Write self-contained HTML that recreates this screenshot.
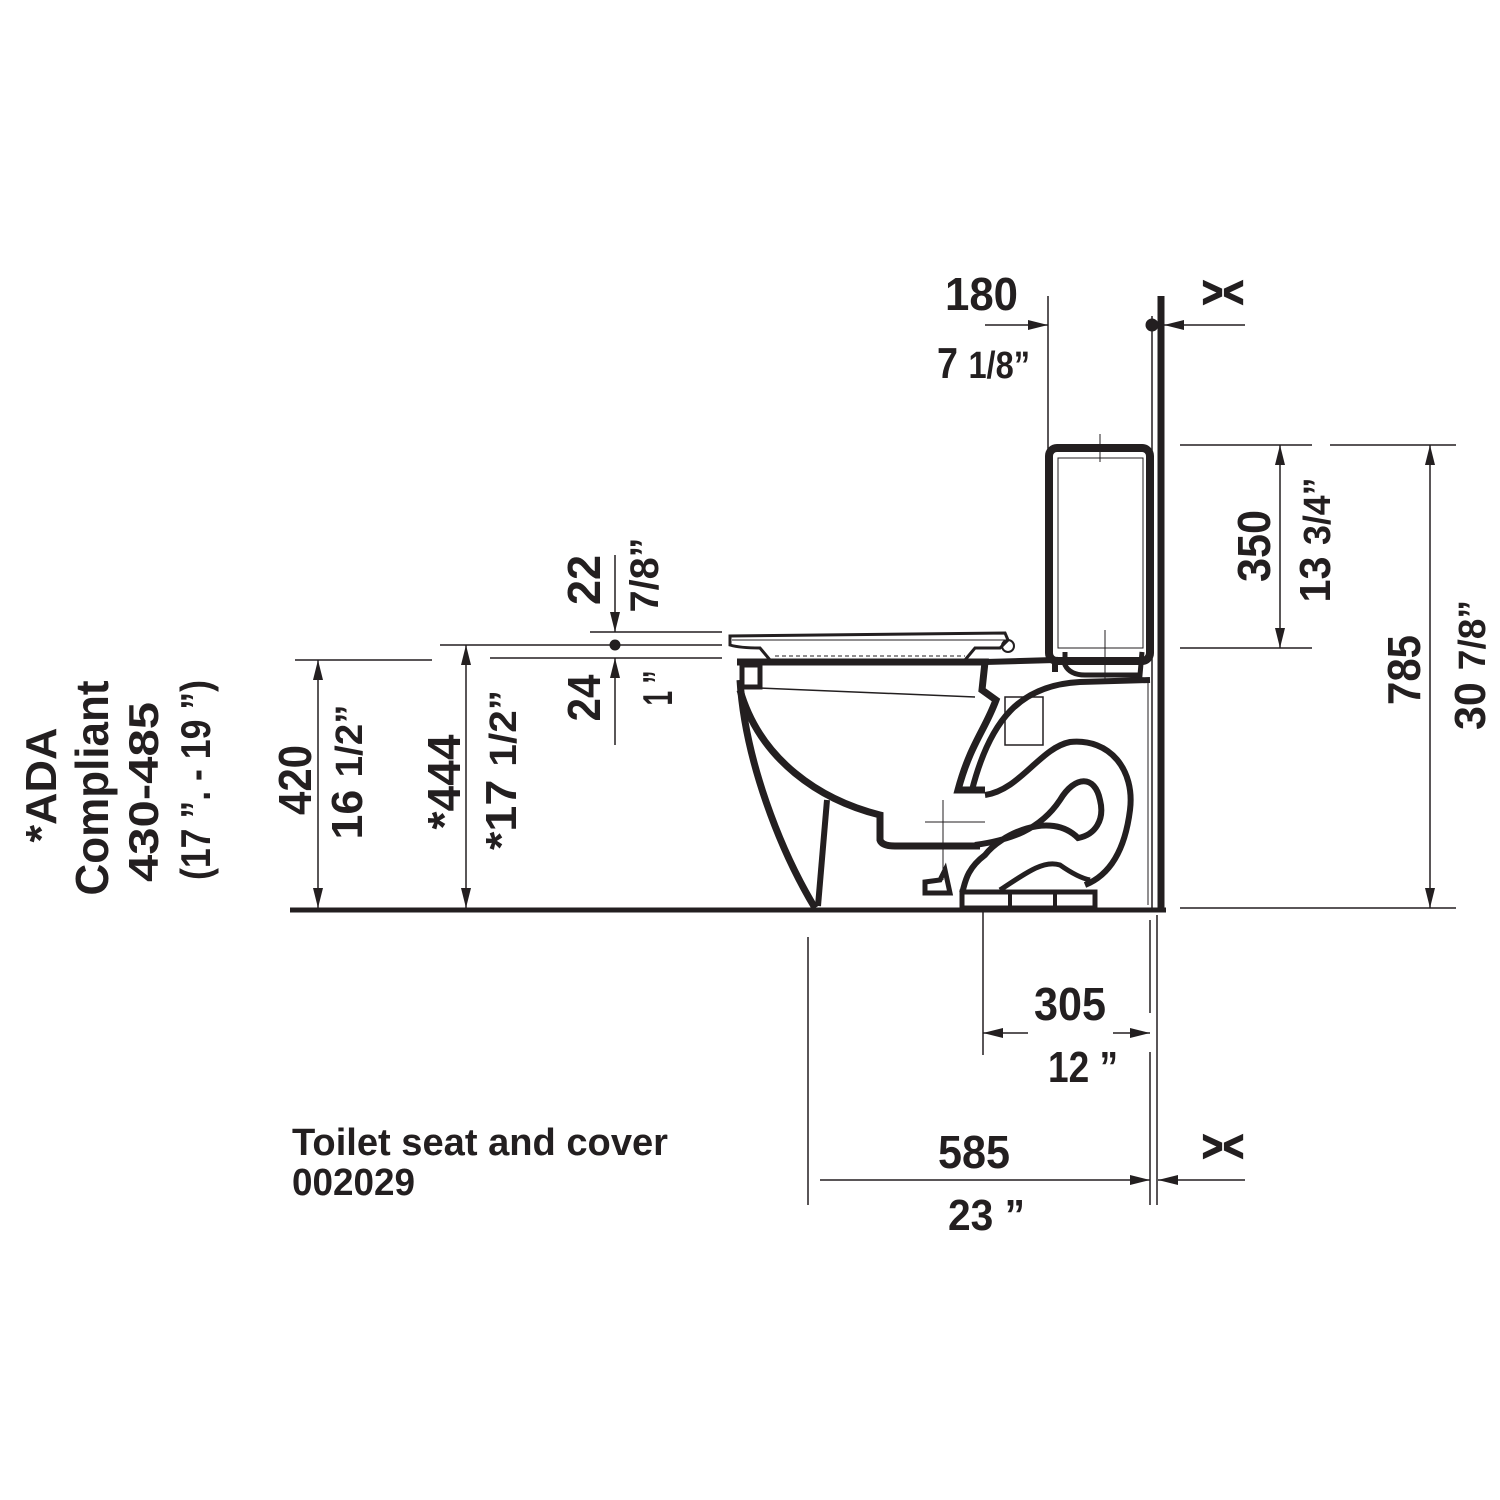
<!DOCTYPE html>
<html><head><meta charset="utf-8"><style>
html,body{margin:0;padding:0;background:#fff;}
svg{display:block;}
text{font-family:"Liberation Sans Narrow","Liberation Sans",sans-serif;font-weight:bold;fill:#231f20;}
</style></head><body>
<svg width="1500" height="1500" viewBox="0 0 1500 1500" xmlns="http://www.w3.org/2000/svg">
<defs>
<marker id="a" viewBox="0 0 20 10" refX="20" refY="5" markerWidth="20" markerHeight="10" markerUnits="userSpaceOnUse" orient="auto"><path d="M0,0 L20,5 L0,10 Z" fill="#231f20"/></marker>
</defs>
<g stroke="#231f20" fill="none">
<line x1="290" y1="910" x2="1166" y2="910" stroke-width="5"/>
<line x1="1161" y1="296" x2="1161" y2="912" stroke-width="7"/>
<line x1="1152" y1="316" x2="1152" y2="910" stroke-width="1.5"/>
<circle cx="1152" cy="325" r="6" fill="#231f20"/>

<line x1="1048" y1="296" x2="1048" y2="455" stroke-width="1.5"/>
<line x1="985" y1="325" x2="1048" y2="325" stroke-width="1.5" marker-end="url(#a)"/>
<line x1="1245" y1="325" x2="1164" y2="325" stroke-width="1.5" marker-end="url(#a)"/>

<line x1="1180" y1="445" x2="1312" y2="445" stroke-width="1.5"/>
<line x1="1180" y1="648" x2="1312" y2="648" stroke-width="1.5"/>
<line x1="1280" y1="546" x2="1280" y2="445" stroke-width="1.5" marker-end="url(#a)"/>
<line x1="1280" y1="546" x2="1280" y2="648" stroke-width="1.5" marker-end="url(#a)"/>
<line x1="1330" y1="445" x2="1456" y2="445" stroke-width="1.5"/>
<line x1="1180" y1="908" x2="1456" y2="908" stroke-width="1.5"/>
<line x1="1430" y1="670" x2="1430" y2="445" stroke-width="1.5" marker-end="url(#a)"/>
<line x1="1430" y1="670" x2="1430" y2="908" stroke-width="1.5" marker-end="url(#a)"/>

<line x1="295" y1="660" x2="432" y2="660" stroke-width="1.5"/>
<line x1="318" y1="780" x2="318" y2="660" stroke-width="1.5" marker-end="url(#a)"/>
<line x1="318" y1="780" x2="318" y2="908" stroke-width="1.5" marker-end="url(#a)"/>
<line x1="440" y1="645" x2="722" y2="645" stroke-width="1.5"/>
<line x1="466" y1="780" x2="466" y2="645" stroke-width="1.5" marker-end="url(#a)"/>
<line x1="466" y1="780" x2="466" y2="908" stroke-width="1.5" marker-end="url(#a)"/>
<line x1="590" y1="632" x2="722" y2="632" stroke-width="1.5"/>
<line x1="490" y1="658" x2="722" y2="658" stroke-width="1.5"/>
<line x1="615" y1="555" x2="615" y2="632" stroke-width="1.5" marker-end="url(#a)"/>
<line x1="615" y1="745" x2="615" y2="658" stroke-width="1.5" marker-end="url(#a)"/>
<circle cx="615" cy="645" r="5" fill="#231f20"/>

<line x1="808" y1="937" x2="808" y2="1205" stroke-width="1.5"/>
<line x1="983" y1="912" x2="983" y2="1055" stroke-width="1.5"/>
<line x1="1150" y1="920" x2="1150" y2="1013" stroke-width="1.5"/>
<line x1="1150" y1="1052" x2="1150" y2="1205" stroke-width="1.5"/>
<line x1="1157" y1="915" x2="1157" y2="1205" stroke-width="1.5"/>
<line x1="1028" y1="1033" x2="983" y2="1033" stroke-width="1.5" marker-end="url(#a)"/>
<line x1="1113" y1="1033" x2="1150" y2="1033" stroke-width="1.5" marker-end="url(#a)"/>
<line x1="820" y1="1180" x2="1150" y2="1180" stroke-width="1.5" marker-end="url(#a)"/>
<line x1="1245" y1="1180" x2="1158" y2="1180" stroke-width="1.5" marker-end="url(#a)"/>

<rect x="1049" y="448" width="101" height="213" rx="8" stroke-width="8"/>
<rect x="1058" y="458" width="85" height="190" stroke-width="1"/>
<line x1="1100" y1="434" x2="1100" y2="462" stroke-width="1"/>
<path d="M1065,652 L1065,665 Q1070,675 1085,675 L1140,675 L1142,652" stroke-width="5"/>
<line x1="1105" y1="630" x2="1105" y2="680" stroke-width="1"/>

<path d="M730,636 L730,645 Q740,648 760,648 L770,660 L965,660 L975,648 L1000,648 L1008,640 L1005,633 Z" stroke-width="3"/>
<line x1="732" y1="640" x2="1005" y2="640" stroke-width="1"/>
<line x1="775" y1="656" x2="965" y2="656" stroke-width="1" stroke-dasharray="4,3"/>
<circle cx="1008" cy="646" r="6" stroke-width="2"/>

<path d="M737,662 L985,662 L982,690 L996,700 C985,730 970,745 958,790 L985,790" stroke-width="7"/>
<path d="M740,690 C760,760 820,800 880,815 L880,840 Q882,846 895,846 L980,846" stroke-width="7"/>
<path d="M740,680 C745,760 780,850 815,908" stroke-width="7"/>
<path d="M827,800 L818,906" stroke-width="6"/>
<rect x="742" y="665" width="18" height="22" stroke-width="5"/>
<line x1="760" y1="688" x2="975" y2="697" stroke-width="1.5"/>
<path d="M985,662 L1055,660 L1055,672 M1150,680 L1080,682 C1020,685 990,720 972,790" stroke-width="6"/>
<path d="M985,795 C1020,790 1040,748 1070,742 C1110,738 1135,770 1130,810 C1125,850 1110,875 1085,885" stroke-width="6"/>
<path d="M975,845 C1010,840 1040,830 1060,800 C1075,775 1095,775 1100,800 C1105,820 1095,835 1078,838 C1050,810 1000,835 985,855 C965,870 965,885 962,893" stroke-width="6"/>
<path d="M1000,890 C1030,870 1045,860 1060,865 C1070,872 1080,878 1090,880" stroke-width="5"/>
<rect x="1005" y="697" width="38" height="48" stroke-width="1.5"/>
<path d="M925,893 L925,882 L940,880 L945,870 L950,893 Z" stroke-width="5"/>
<rect x="962" y="892" width="133" height="16" stroke-width="5"/>
<line x1="1010" y1="892" x2="1010" y2="908" stroke-width="4"/>
<line x1="1055" y1="892" x2="1055" y2="908" stroke-width="4"/>
<line x1="943" y1="800" x2="943" y2="880" stroke-width="1"/>
<line x1="925" y1="822" x2="985" y2="822" stroke-width="1"/>
<line x1="1148" y1="680" x2="1148" y2="905" stroke-width="1"/>
</g>

<text x="945" y="310" font-size="46" textLength="73" lengthAdjust="spacingAndGlyphs">180</text>
<text x="937" y="378" font-size="44" textLength="93" lengthAdjust="spacingAndGlyphs">7 <tspan font-size="38">1/8”</tspan></text>
<text x="1202" y="307" font-size="44" textLength="42" lengthAdjust="spacingAndGlyphs" stroke="#231f20" stroke-width="1.5">&gt;&lt;</text>
<text x="1202" y="1161" font-size="44" textLength="42" lengthAdjust="spacingAndGlyphs" stroke="#231f20" stroke-width="1.5">&gt;&lt;</text>
<text x="1034" y="1020" font-size="46" textLength="72" lengthAdjust="spacingAndGlyphs">305</text>
<text x="1048" y="1082" font-size="44" textLength="70" lengthAdjust="spacingAndGlyphs">12 ”</text>
<text x="938" y="1168" font-size="46" textLength="72" lengthAdjust="spacingAndGlyphs">585</text>
<text x="948" y="1230" font-size="44" textLength="77" lengthAdjust="spacingAndGlyphs">23 ”</text>
<text x="292" y="1155" font-size="38" textLength="376" lengthAdjust="spacingAndGlyphs">Toilet seat and cover</text>
<text x="292" y="1195" font-size="38" textLength="123" lengthAdjust="spacingAndGlyphs">002029</text>

<g text-anchor="middle">
<text transform="translate(311,780) rotate(-90)" font-size="46" textLength="70" lengthAdjust="spacingAndGlyphs">420</text>
<text transform="translate(362,772) rotate(-90)" font-size="44" textLength="135" lengthAdjust="spacingAndGlyphs">16 <tspan font-size="38">1/2”</tspan></text>
<text transform="translate(460,782) rotate(-90)" font-size="46" textLength="95" lengthAdjust="spacingAndGlyphs">*444</text>
<text transform="translate(516,770) rotate(-90)" font-size="44" textLength="160" lengthAdjust="spacingAndGlyphs">*17 <tspan font-size="38">1/2”</tspan></text>
<text transform="translate(600,580) rotate(-90)" font-size="46" textLength="50" lengthAdjust="spacingAndGlyphs">22</text>
<text transform="translate(658,575) rotate(-90)" font-size="40" textLength="75" lengthAdjust="spacingAndGlyphs">7/8”</text>
<text transform="translate(600,698) rotate(-90)" font-size="46" textLength="47" lengthAdjust="spacingAndGlyphs">24</text>
<text transform="translate(672,688) rotate(-90)" font-size="42" textLength="35" lengthAdjust="spacingAndGlyphs">1 ”</text>
<text transform="translate(1270,546) rotate(-90)" font-size="46" textLength="72" lengthAdjust="spacingAndGlyphs">350</text>
<text transform="translate(1330,540) rotate(-90)" font-size="44" textLength="125" lengthAdjust="spacingAndGlyphs">13 <tspan font-size="38">3/4”</tspan></text>
<text transform="translate(1420,670) rotate(-90)" font-size="46" textLength="70" lengthAdjust="spacingAndGlyphs">785</text>
<text transform="translate(1485,665) rotate(-90)" font-size="44" textLength="130" lengthAdjust="spacingAndGlyphs">30 <tspan font-size="38">7/8”</tspan></text>
<text transform="translate(56,785) rotate(-90)" font-size="44" textLength="115" lengthAdjust="spacingAndGlyphs">*ADA</text>
<text transform="translate(108,788) rotate(-90)" font-size="46" textLength="215" lengthAdjust="spacingAndGlyphs">Compliant</text>
<text transform="translate(158,792) rotate(-90)" font-size="42" textLength="180" lengthAdjust="spacingAndGlyphs">430-485</text>
<text transform="translate(210,780) rotate(-90)" font-size="42" textLength="200" lengthAdjust="spacingAndGlyphs">(17 ”. - 19 ”)</text>
</g>
</svg>
</body></html>
